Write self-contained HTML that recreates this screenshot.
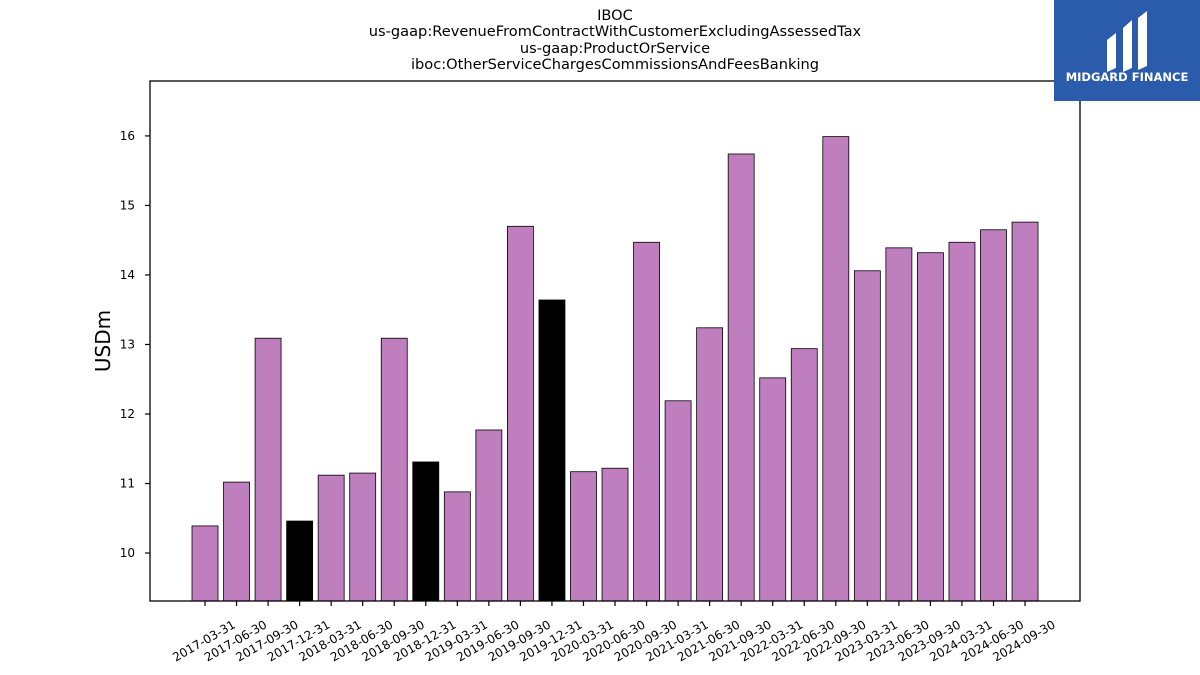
<!DOCTYPE html>
<html><head><meta charset="utf-8"><style>
body{margin:0;background:#fff;}
svg{display:block;font-family:"DejaVu Sans","Liberation Sans",sans-serif;}
</style></head><body>
<svg id="chart" width="1200" height="675">
<g font-size="14.6" text-anchor="middle" fill="#000">
<text x="615" y="20">IBOC</text>
<text x="615" y="36">us-gaap:RevenueFromContractWithCustomerExcludingAssessedTax</text>
<text x="615" y="53">us-gaap:ProductOrService</text>
<text x="615" y="69">iboc:OtherServiceChargesCommissionsAndFeesBanking</text>
</g>
<g id="bars"></g>
<g id="yaxis"></g>
<g id="xaxis"></g>
<rect x="150" y="81" width="930" height="520" fill="none" stroke="#000" stroke-width="1.3"/>
<text x="110" y="341" font-size="20" text-anchor="middle" transform="rotate(-90 110 341)">USDm</text>
<g>
<rect x="1054" y="0" width="146" height="101" fill="#2b5bab"/>
<path d="M1107 40 L1116 33 L1116 68 L1107 72 Z" fill="#fff"/>
<path d="M1123 28 L1132 20 L1132 68 L1123 72 Z" fill="#fff"/>
<path d="M1138 18 L1147 11 L1147 66 L1138 70 Z" fill="#fff"/>
<text x="1127" y="81" font-size="11.5" font-weight="bold" fill="#fff" text-anchor="middle">MIDGARD FINANCE</text>
</g>
</svg>
<script>
const categories=["2017-03-31","2017-06-30","2017-09-30","2017-12-31","2018-03-31","2018-06-30","2018-09-30","2018-12-31","2019-03-31","2019-06-30","2019-09-30","2019-12-31","2020-03-31","2020-06-30","2020-09-30","2021-03-31","2021-06-30","2021-09-30","2022-03-31","2022-06-30","2022-09-30","2023-03-31","2023-06-30","2023-09-30","2024-03-31","2024-06-30","2024-09-30"];
const values=[10.39,11.02,13.09,10.46,11.12,11.15,13.09,11.31,10.88,11.77,14.70,13.64,11.17,11.22,14.47,12.19,13.24,15.74,12.52,12.94,15.99,14.06,14.39,14.32,14.47,14.65,14.76];
const highlighted=[0,0,0,1,0,0,0,1,0,0,0,1,0,0,0,0,0,0,0,0,0,0,0,0,0,0,0];
const yTicks=[10,11,12,13,14,15,16];
(function(){
const NS="http://www.w3.org/2000/svg";
const yMin=9.31,yMax=16.79,plotTop=81,plotBot=601;
function y(v){return plotBot-(v-yMin)/(yMax-yMin)*(plotBot-plotTop);}
const x0=205,step=31.54,bw=26;
function x(i){return x0+i*step;}
const bars=document.getElementById('bars'),ya=document.getElementById('yaxis'),xa=document.getElementById('xaxis');
function mk(t,a,p){const e=document.createElementNS(NS,t);for(const k in a)e.setAttribute(k,a[k]);p.appendChild(e);return e;}
values.forEach((v,i)=>{
 const r=mk('rect',{x:x(i)-bw/2,y:y(v),width:bw,height:plotBot-y(v),fill:highlighted[i]?'#000':'#bf7fbf',stroke:'#000','stroke-width':0.8},bars);
 
 
 const t=mk('line',{x1:x(i),x2:x(i),y1:plotBot,y2:plotBot+5,stroke:'#000','stroke-width':1.2},xa);
 
 
 const cx=x(i)-1,cy=641;
 const l=mk('text',{x:cx,y:cy+4,'font-size':12,'text-anchor':'middle',transform:`rotate(-30 ${cx} ${cy})`},xa);
 l.textContent=categories[i];
 
 
});
yTicks.forEach(v=>{
 const t=mk('line',{x1:145,x2:150,y1:y(v),y2:y(v),stroke:'#000','stroke-width':1.2},ya);
 
 
 const l=mk('text',{x:135,y:y(v)+4,'font-size':12,'text-anchor':'end'},ya);
 l.textContent=v;
 
 
});
})();
</script>
</body></html>
